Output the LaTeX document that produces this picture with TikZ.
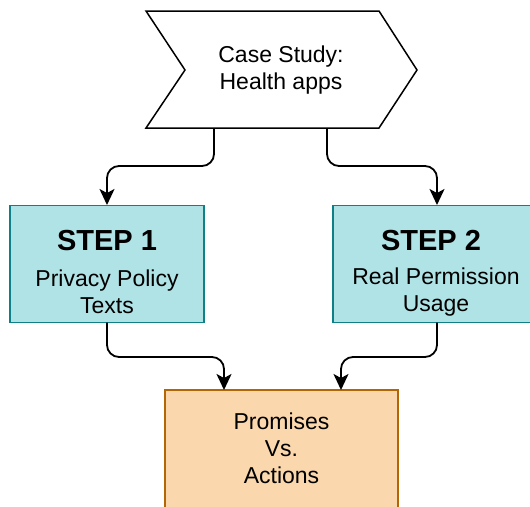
\documentclass[tikz,border=0pt]{standalone}
\usepackage{fontspec}
\setmainfont{Liberation Sans}
\usetikzlibrary{arrows.meta}
\definecolor{stepfill}{HTML}{B0E3E6}
\definecolor{stepline}{HTML}{0E8088}
\definecolor{resfill}{HTML}{FAD7AC}
\definecolor{resline}{HTML}{B46504}
\begin{document}
\begin{tikzpicture}[x=1pt,y=-1pt,
  txt/.style={font=\fontsize{23}{27}\selectfont, align=center, inner sep=0},
  steptitle/.style={font=\fontsize{29}{32}\selectfont\bfseries, inner sep=0},
  conn/.style={draw=black, line width=1.8pt, rounded corners=12pt, -{Stealth[length=16pt,width=15pt,inset=4pt]}}]
\useasboundingbox (0,0) rectangle (530,506);
% chevron
\draw[line width=1.5pt, fill=white, line join=miter] (146,11) -- (379,11) -- (417,70) -- (379,128) -- (146,128) -- (185,70) -- cycle;
\node[txt] (case) at (281,70) {Case Study:\\Health apps};
\coordinate (c1) at (214,128);
\coordinate (c2) at (327,128);
% step boxes
\node[draw=stepline, fill=stepfill, line width=1.5pt, minimum width=194pt, minimum height=117pt, inner sep=0] (s1) at (107,264) {};
\node[draw=stepline, fill=stepfill, line width=1.5pt, minimum width=200pt, minimum height=117pt, inner sep=0] (s2) at (433,264) {};
\node[steptitle] (t1) at (107,241) {STEP 1};
\node[txt] (d1) at (107,292) {Privacy Policy\\Texts};
\node[steptitle] (t2) at (431,241) {STEP 2};
\node[txt] (d2) at (436,292) {Real Permission\\Usage};
% result box
\node[draw=resline, fill=resfill, line width=1.5pt, minimum width=233pt, minimum height=118pt, inner sep=0] (r) at (281.5,449) {};
\node[txt] (rt) at (281.5,448) {Promises\\Vs.\\Actions};
% connectors
\path[conn] (c1) -- (214,166) -- (107,166) -- (107,205);
\path[conn] (c2) -- (327,166) -- (437,166) -- (437,205);
\path[conn] (107,322.5) -- (107,357) -- (224,357) -- (224,390);
\path[conn] (437,322.5) -- (437,357) -- (341,357) -- (341,390);
\end{tikzpicture}
\end{document}
